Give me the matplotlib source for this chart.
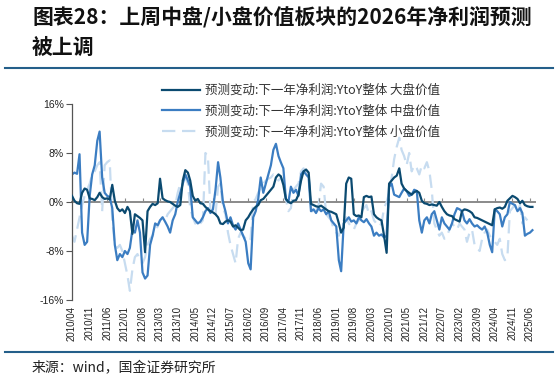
import numpy as np
import pandas as pd
import matplotlib
matplotlib.use("Agg")
import matplotlib.pyplot as plt
from matplotlib.lines import Line2D

plt.rcParams['font.family'] = ['Noto Sans CJK SC', 'DejaVu Sans']

# ---------------- data (monthly, 2010/04 .. 2025/07), unit: % ----------------
dates = pd.date_range("2010-04-01", periods=184, freq="MS")

large_value = [
    1.0, 0.2, -0.2, -0.3, 1.5, 2.2, 2.0, 0.6, 0.5, 0.3,
    0.8, 1.5, 0.8, 0.5, 0.6, 0.4, 2.8, 0.2, -1.0, -1.5,
    -1.2, -1.8, -0.8, -1.5, -5.2, -2.0, -2.3, -2.6, -3.0, -8.2,
    -1.5, -0.8, -0.3, -0.5, -0.2, 3.8, 0.6, 0.3, 0.1, 0.0,
    -0.3, -0.6, -0.8, -0.5, 3.5, 5.2, 4.8, 3.5, 1.0, 0.2,
    0.5, -0.2, -0.3, -0.8, -1.2, -1.5, -1.7, -2.0, -2.5, -3.5,
    -3.6, -3.2, -3.0, -3.2, -4.0, -3.8, -4.2, -4.6, -4.5, -3.0,
    -2.5, -1.8, -1.2, -0.8, -0.5, 0.3, 0.5, 1.0, 1.5, 2.0,
    2.5, 4.0, 4.5, 4.2, 2.8, 0.5, 0.0, -0.2, 0.2, 0.3,
    1.2, 3.5, 5.0, 5.3, 4.8, -0.3, -0.5, -0.7, -0.8, -0.6,
    -0.9, -1.2, -1.5, -1.6, -1.8, -2.0, -3.5, -5.0, -4.2, 3.0,
    4.0, 3.8, -2.0, -2.3, -2.2, -2.5, 0.8, 1.0, 0.8, 0.9,
    -2.0, -2.5, -2.8, -3.0, -5.5, -8.3, 3.0, 3.5, 4.0, 4.3,
    5.5, 3.0, 2.2, 1.8, 1.5, 1.2, 1.6, 1.8, 1.5, 0.2,
    -0.2, -0.3, -0.5, -0.4, -0.5, -0.6, 0.0, -0.8, -1.5, -2.0,
    -2.2, -2.3, -2.8, -3.0, -3.2, -1.5, -1.2, -1.3, -1.5, -1.8,
    -2.5, -2.6, -2.8, -3.0, -3.2, -3.4, -3.6, -3.8, -1.2, -1.0,
    -0.9, -1.1, -0.8, 0.2, 0.6, 1.0, 0.8, 0.5, -0.2, 0.2,
    -0.5, -0.7, -0.8, -0.8,
]

mid_value = [
    4.5, 4.8, 4.6, 7.8, -5.0, -7.0, -6.5, 1.0, 4.5, 6.0,
    10.0, 11.5, 4.0, 1.5, 1.0, 0.8, -1.0, -7.0, -9.5, -8.5,
    -9.0, -8.0, -8.5, -7.5, -4.5, -5.0, -3.0, -5.0, -11.5, -12.5,
    -12.0, -7.0, -5.5, -3.5, -3.8, -3.0, -2.5, -3.2, -4.0, -5.0,
    -3.0, -2.0, 0.0, 1.5, 3.0, 4.5, 3.5, 2.5, -2.5, -3.0,
    -3.5, -3.2, -2.5, -1.5, -1.0, -1.8, -1.2, 2.0, 6.5, 4.0,
    0.0, -1.5, -3.5, -2.5, -3.8, -4.5, -3.5, -4.5, -5.5, -6.5,
    -10.0, -11.0, -2.5, -1.5, 0.5, 4.0, 1.5, 3.0, 4.5, 6.0,
    8.5, 9.5, 7.5, 6.5, 5.5, 0.5, 0.0, 2.5, 1.5, 2.0,
    1.0, 4.5, 5.0, 4.5, 4.0, -1.5, -1.2, -1.8, -1.0, -1.5,
    -1.2, -2.0, -1.5, -3.0, -3.5, -4.0, -9.5, -11.3, -3.5, -3.0,
    -2.5, -3.2, -3.0, -3.5, -2.5, -3.0, -3.3, -2.8, -3.5, -4.0,
    -5.5, -5.0, -5.5, -5.3, -5.8, -5.5, 2.5, 3.0, 1.2, 1.0,
    0.8, 1.5, 2.2, 1.8, 1.0, 1.2, 2.0, 1.8, -3.0, -5.0,
    -3.0, -2.5, -3.5, -2.0, -1.5, -3.0, -4.5, -2.5, -3.5, -4.0,
    -4.5, -3.5, -2.0, -1.0, -1.2, -1.5, -3.0, -3.5, -2.8, -3.5,
    -4.0, -3.8, -4.2, -4.5, -4.0, -5.0, -7.0, -8.2, -1.2, -1.5,
    -2.0, -4.0, -2.5, -2.0, 0.0, -0.3, -0.5, -1.5, -1.0, -1.8,
    -5.5, -5.2, -5.0, -4.6,
]

nan = float("nan")
small_value = [
    -5.5, -6.5, -4.5, -2.5, -0.5, 1.0, 2.0, 3.0, 4.5, 5.0,
    6.0, 6.5, -1.5, 6.0, 6.5, 6.8, -3.0, -7.0, -7.5, -7.0,
    -8.0, -10.0, -12.0, -14.5, -11.0, -9.0, -8.5, -9.5, -10.0, -9.0,
    -7.0, -6.0, -5.5, -4.5, -4.0, -3.0, -2.5, -3.0, -2.0, -1.5,
    -1.0, -0.5, 1.5, 3.0, 3.5, 4.0, 3.0, -1.0, -2.5, -3.5,
    -4.0, -3.5, -3.0, 8.0, 7.5, -1.5, -1.0, -2.0, 2.5, 3.0,
    -1.0, -2.0, -5.0, -7.0, -8.5, -10.0, -6.0, -5.0, -5.5, -6.0,
    -6.5, -6.0, 0.0, 0.5, 1.5, 2.5, 3.0, 3.5, 3.8, 4.0,
    4.5, 4.2, 3.5, 4.0, 3.5, 0.5, -1.5, -1.0, 2.0, 2.5,
    3.0, 5.0, 5.5, 5.0, 4.5, -1.0, -2.0, -1.5, -0.5, 3.0,
    2.5, -2.0, -2.5, -3.0, -4.5, -5.0, -5.5, -4.0, -3.0, -2.5,
    -3.5, -4.0, -4.5, -3.5, -3.0, -1.5, -1.0, -0.5, -2.0, -1.5,
    -3.0, -3.5, -4.0, -3.5, -1.0, 0.0, 1.5, 4.0, 7.0, 9.0,
    10.5, 8.5, 7.5, 6.0, 8.0, 5.0, 6.0, 5.5, 4.5, 6.0,
    5.5, 6.5, 5.0, 2.0, -3.5, -4.5, -5.5, -5.0, -6.0, -5.5,
    -4.5, -3.5, -4.0, -4.5, -3.5, -4.0, -4.5, -6.5, -5.0, -4.5,
    -7.0, -7.5, -8.0, -6.0, -5.0, -4.5, -5.5, -6.0, -6.5, -7.0,
    -6.0, -8.5, -9.5, -9.0, -1.5, -1.0, -0.5, -1.5, -0.5, -3.5,
    -2.5, -3.0, nan, nan,
]

labels = [
    "预测变动:下一年净利润:YtoY整体 大盘价值",
    "预测变动:下一年净利润:YtoY整体 中盘价值",
    "预测变动:下一年净利润:YtoY整体 小盘价值",
]
y_ticks = [-16, -8, 0, 8, 16]
tick_dates = pd.date_range("2010-04-01", "2025-06-01", freq="7MS")

title_line1 = "图表28：上周中盘/小盘价值板块的2026年净利润预测"
title_line2 = "被上调"
source_text = "来源：wind，国金证券研究所"

# ---------------- figure ----------------
W, H = 559, 385
fig = plt.figure(figsize=(W / 100, H / 100), dpi=100)
ax = fig.add_axes([72 / W, 1 - 300 / H, (535 - 72) / W, (300 - 104) / H])

c_dark = "#0b4a70"
c_mid = "#3b7dc2"
c_light = "#c7dcf0"

ax.plot(dates, large_value, color=c_dark, lw=1.6, label=labels[0], zorder=3)
ax.plot(dates, mid_value, color=c_mid, lw=1.6, label=labels[1], zorder=2)
ax.plot(dates, small_value, color=c_light, lw=1.6, dashes=(6, 3),
        label=labels[2], zorder=1)

ax.set_ylim(-16, 16)
ax.set_xlim(pd.Timestamp("2010-04-01"), pd.Timestamp("2025-08-01"))
ax.set_yticks(y_ticks)
ax.set_yticklabels([f"{v}%" for v in y_ticks], family="Liberation Sans",
                   fontsize=7.5)
ax.tick_params(axis="y", direction="out", length=4, color="#555555",
               pad=2, labelcolor="#222222")

for s in ["top", "right"]:
    ax.spines[s].set_visible(False)
ax.spines["left"].set_color("#555555")
ax.spines["left"].set_linewidth(0.9)
ax.spines["bottom"].set_position(("data", 0))
ax.spines["bottom"].set_color("#8a8a8a")
ax.spines["bottom"].set_linewidth(1.4)
ax.spines["bottom"].set_zorder(0.5)

ax.set_xticks(tick_dates)
ax.tick_params(axis="x", direction="in", length=3, color="#8a8a8a",
               labelbottom=False)

sec = ax.secondary_xaxis("bottom")
sec.set_xticks(tick_dates)
sec.set_xticklabels([d.strftime("%Y/%m") for d in tick_dates],
                    rotation=90, family="Liberation Sans", fontsize=7)
sec.tick_params(axis="x", length=0, pad=4, labelcolor="#222222")
sec.spines["bottom"].set_visible(False)

leg = ax.legend(loc="upper left", bbox_to_anchor=(162 / W, 1 - 84 / H),
                bbox_transform=fig.transFigure, frameon=False,
                fontsize=9, handlelength=3.0, handletextpad=0.45,
                labelspacing=0.62, borderaxespad=0, borderpad=0)
for t in leg.get_texts():
    t.set_color("#333333")

# title, rules and source
fig.text(32 / W, 1 - 17 / H, title_line1, fontsize=15, fontweight="bold",
         va="center", ha="left", color="#111111")
fig.text(32 / W, 1 - 47 / H, title_line2, fontsize=15, fontweight="bold",
         va="center", ha="left", color="#111111")
rule_color = "#245f8a"
fig.add_artist(Line2D([5 / W, 553 / W], [1 - 68 / H, 1 - 68 / H],
                      color=rule_color, lw=1.5, transform=fig.transFigure))
fig.add_artist(Line2D([5 / W, 553 / W], [1 - 352 / H, 1 - 352 / H],
                      color=rule_color, lw=1.5, transform=fig.transFigure))
fig.text(32 / W, 1 - 368 / H, source_text, fontsize=10, va="center",
         ha="left", color="#222222")

fig.savefig("out.png", dpi=100)
